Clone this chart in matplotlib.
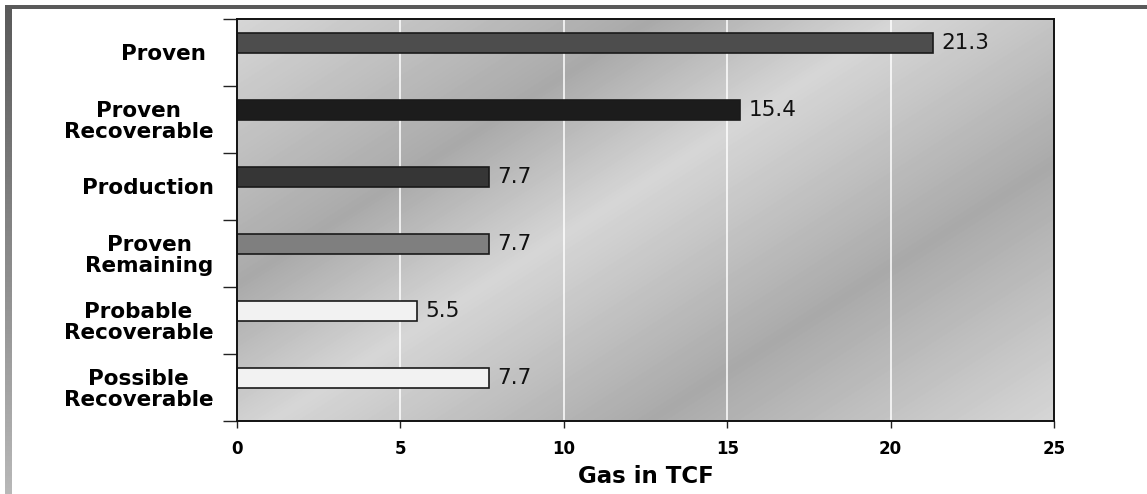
import numpy as np
import matplotlib.pyplot as plt
from matplotlib.patches import Rectangle

# reserve categories (top to bottom) and volumes in TCF
categories = ['Proven ', 'Proven\nRecoverable', 'Production',
              'Proven\nRemaining', 'Probable\nRecoverable', 'Possible\nRecoverable']
volumes = [21.3, 15.4, 7.7, 7.7, 5.5, 7.7]
value_labels = ['21.3', '15.4', '7.7', '7.7', '5.5', '7.7']
bar_colors = ['#4d4d4d', '#1c1c1c', '#363636', '#7f7f7f', '#f2f2f2', '#f2f2f2']
x_ticks = [0, 5, 10, 15, 20, 25]

W, H = 1147, 494
fig = plt.figure(figsize=(W / 100, H / 100), dpi=100)
fig.patch.set_facecolor('white')

# frame decoration: dark band on top, fading band down the left side
fig.patches.append(Rectangle((5 / W, 1 - 9 / H), 1 - 5 / W, 4 / H,
                             transform=fig.transFigure, facecolor='#5a5a5a',
                             edgecolor='none', zorder=0))
band = fig.add_axes([5 / W, 0, 7 / W, 1 - 5 / H])
band.imshow(np.linspace(0.35, 0.72, 200).reshape(-1, 1), cmap='gray',
            vmin=0, vmax=1, aspect='auto', extent=(0, 1, 0, 1))
band.set_axis_off()

ax = fig.add_axes([237 / W, 1 - 420.7 / H, 817 / W, 401.7 / H])

# diagonal banded gradient fill of the plot area
pw, ph = 817, 402
xx, yy = np.meshgrid(np.arange(pw), np.arange(ph))
s = xx + 1.57 * yy
shade = np.interp(s, [0, 417, 665, 1043, 1448], [0.84, 0.665, 0.84, 0.665, 0.84])
ax.imshow(shade, cmap='gray', vmin=0, vmax=1, aspect='auto',
          extent=(0, 1, 0, 1), transform=ax.transAxes, zorder=0,
          interpolation='bilinear')

pos = np.arange(len(categories))
ax.barh(pos - 0.135, volumes, height=0.3, color=bar_colors,
        edgecolor='#1a1a1a', linewidth=1.2, zorder=2)

for y, v, t in zip(pos, volumes, value_labels):
    ax.text(v + 0.25, y - 0.135, t, va='center', ha='left',
            fontsize=15.5, color='#111111', family='DejaVu Sans', zorder=3)

ax.set_xlim(0, 25)
ax.set_ylim(len(categories) - 0.5, -0.5)
ax.set_xticks(x_ticks)
ax.set_xticklabels([str(t) for t in x_ticks], fontsize=12, fontweight='bold')
ax.set_yticks(pos)
ax.set_yticklabels(categories, fontsize=15.5, fontweight='bold', linespacing=1.05)
for lbl in ax.get_yticklabels():
    lbl.set_multialignment('center')
ax.set_yticks(np.arange(-0.5, len(categories)), minor=True)
ax.tick_params(axis='y', which='major', length=0, pad=17)
ax.tick_params(axis='y', which='minor', length=10, width=1, color='#222222')
ax.tick_params(axis='x', which='major', length=5, width=1, pad=9, color='#222222')

ax.set_axisbelow(True)
ax.grid(axis='x', color='white', linewidth=1.1)
for sp in ax.spines.values():
    sp.set_color('#111111')
    sp.set_linewidth(1.4)

ax.set_xlabel('Gas in TCF', fontsize=16.5, fontweight='bold', labelpad=5)

fig.savefig('out.png', dpi=100)
